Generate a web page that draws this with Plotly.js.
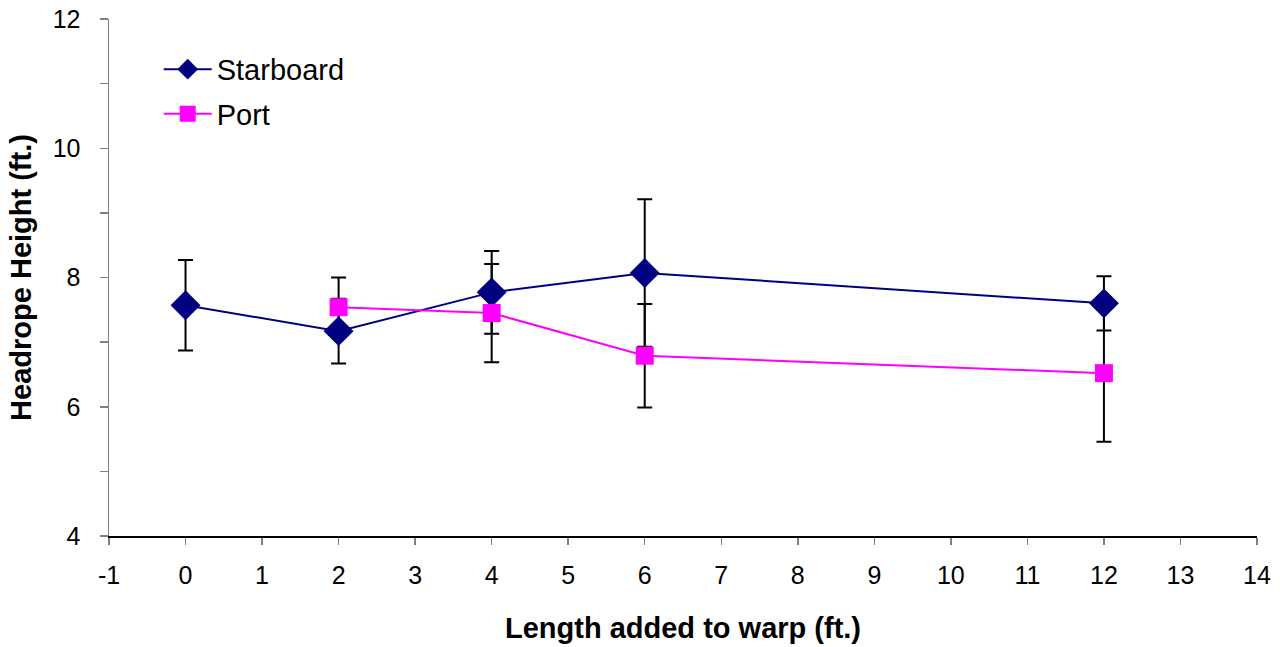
<!DOCTYPE html>
<html>
<head>
<meta charset="utf-8">
<script src="https://cdn.plot.ly/plotly-3.0.1.min.js"></script>
<style>html,body{margin:0;padding:0;background:#fff;}#chart{width:1280px;height:647px;}</style>
</head>
<body>
<div id="chart"></div>
<script>
var starboardX = [0, 2, 4, 6, 12];
var starboardY = [7.57, 7.17, 7.77, 8.07, 7.60];
var starboardErr = [0.70, 0.50, 0.64, 1.14, 0.42];

var portX = [2, 4, 6, 12];
var portY = [7.54, 7.45, 6.79, 6.52];
var portErr = [0.46, 0.76, 0.80, 1.06];

var yTickVals = [4, 5, 6, 7, 8, 9, 10, 11, 12];
var yTickText = ['4', '', '6', '', '8', '', '10', '', '12'];
var xTickVals = [-1, 0, 1, 2, 3, 4, 5, 6, 7, 8, 9, 10, 11, 12, 13, 14];
var xTickText = ['-1', '0', '1', '2', '3', '4', '5', '6', '7', '8', '9', '10', '11', '12', '13', '14'];

var FONT = 'Liberation Sans, Arial, sans-serif';

function errTrace(x, y, e) {
  return {
    x: x, y: y, type: 'scatter', mode: 'markers',
    marker: {color: 'rgba(0,0,0,0)', size: 1},
    error_y: {type: 'data', array: e, visible: true, color: '#000000', thickness: 2, width: 7.5},
    showlegend: false, hoverinfo: 'skip'
  };
}

var traces = [
  errTrace(starboardX, starboardY, starboardErr),
  errTrace(portX, portY, portErr),
  {
    x: starboardX, y: starboardY, type: 'scatter', mode: 'lines+markers', name: 'Starboard',
    legendgroup: 's',
    line: {color: '#000080', width: 2},
    marker: {symbol: 'diamond', size: 23, color: '#000080'}
  },
  {
    x: portX, y: portY, type: 'scatter', mode: 'lines+markers', name: 'Port',
    legendgroup: 'p',
    line: {color: '#FF00FF', width: 2},
    marker: {symbol: 'square', size: 18, color: '#FF00FF'}
  }
];

var layout = {
  width: 1280, height: 647,
  margin: {l: 109, r: 23, t: 19, b: 111},
  paper_bgcolor: '#ffffff', plot_bgcolor: '#ffffff',
  font: {family: FONT, size: 25, color: '#000000'},
  showlegend: true,
  legend: {
    x: 0.0433, y: 0.952, xanchor: 'left', yanchor: 'top',
    font: {family: FONT, size: 29, color: '#000000'},
    itemwidth: 48,
    bgcolor: 'rgba(0,0,0,0)', traceorder: 'grouped', tracegroupgap: 4
  },
  xaxis: {
    range: [-1, 14], tickmode: 'array', tickvals: xTickVals, ticktext: xTickText,
    showgrid: false, zeroline: false,
    showline: true, linecolor: '#000000', linewidth: 1.5,
    ticks: 'outside', ticklen: 7, tickcolor: '#808080', tickwidth: 1.5,
    tickfont: {family: FONT, size: 25, color: '#000000'},
    ticklabelstandoff: 9,
    title: {text: '<b>Length added to warp (ft.)</b>', font: {family: FONT, size: 29, color: '#000000'}, standoff: 30}
  },
  yaxis: {
    range: [4, 12], tickmode: 'array', tickvals: yTickVals, ticktext: yTickText,
    showgrid: false, zeroline: false,
    showline: true, linecolor: '#808080', linewidth: 1.5,
    ticks: 'outside', ticklen: 8, tickcolor: '#808080', tickwidth: 1.5,
    tickfont: {family: FONT, size: 25, color: '#000000'},
    ticklabelstandoff: 14,
    title: {text: '<b>Headrope Height (ft.)</b>', font: {family: FONT, size: 29, color: '#000000'}, standoff: 12}
  }
};

Plotly.newPlot('chart', traces, layout, {displayModeBar: false, staticPlot: true});
</script>
</body>
</html>
